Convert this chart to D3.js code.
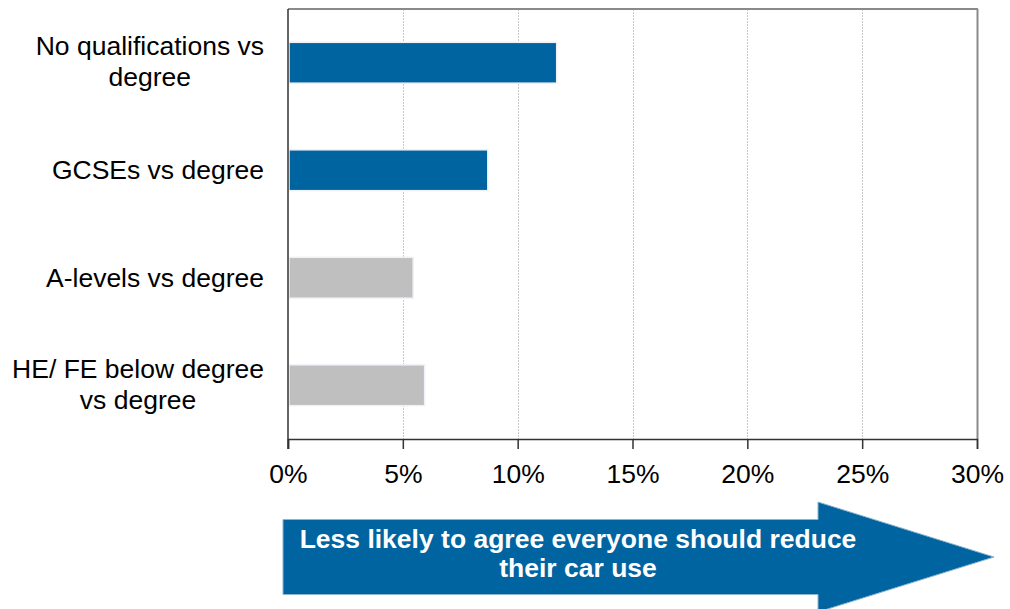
<!DOCTYPE html>
<html>
<head>
<meta charset="utf-8">
<script src="https://cdn.jsdelivr.net/npm/d3@7"></script>
<style>
  html, body { margin: 0; padding: 0; background: #fff; }
  svg { display: block; font-family: "Liberation Sans", Arial, sans-serif; }
</style>
</head>
<body>
<svg id="chart" width="1010" height="609"></svg>
<script>
// ---- data ----
const categories = [
  ["No qualifications vs", "degree"],
  ["GCSEs vs degree"],
  ["A-levels vs degree"],
  ["HE/ FE below degree", "vs degree"]
];
const values = [11.7, 8.7, 5.45, 5.95];
const significant = [true, true, false, false];
const tickValues = [0, 5, 10, 15, 20, 25, 30];
const arrowText = ["Less likely to agree everyone should reduce", "their car use"];

// ---- layout ----
const svg = d3.select("#chart");
const plotLeft = 288, plotRight = 977, plotTop = 9, plotBottom = 439;
const fontSize = 26.5;
const blue = "#0064a1", grey = "#bfbfbf";

const x = d3.scaleLinear().domain([0, 30]).range([plotLeft, plotRight]);
const y = d3.scaleBand()
  .domain(d3.range(categories.length))
  .range([plotTop, plotBottom])
  .paddingInner(0.62)
  .paddingOuter(0.31);

// gridlines
svg.append("g")
  .selectAll("line")
  .data(tickValues.filter(d => d > 0 && d < 30))
  .join("line")
  .attr("x1", d => Math.round(x(d)) + 0.5)
  .attr("x2", d => Math.round(x(d)) + 0.5)
  .attr("y1", plotTop)
  .attr("y2", plotBottom)
  .attr("stroke", "#c8c8c8")
  .attr("stroke-width", 1)
  .attr("stroke-dasharray", "2,1");

// bars
svg.append("g")
  .selectAll("rect")
  .data(values)
  .join("rect")
  .attr("x", x(0) + 1)
  .attr("y", (d, i) => y(i))
  .attr("width", d => x(d) - x(0) - 1)
  .attr("height", y.bandwidth())
  .attr("fill", (d, i) => significant[i] ? blue : grey)
  .attr("stroke", "#eef2f6")
  .attr("stroke-width", 1.5);

// frame: top and right (grey)
svg.append("line")
  .attr("x1", plotLeft).attr("x2", plotRight + 1)
  .attr("y1", plotTop).attr("y2", plotTop)
  .attr("stroke", "#8a8a8a").attr("stroke-width", 2);
svg.append("line")
  .attr("x1", plotRight + 0.5).attr("x2", plotRight + 0.5)
  .attr("y1", plotTop).attr("y2", plotBottom)
  .attr("stroke", "#8a8a8a").attr("stroke-width", 2);

// bottom axis
const xAxis = d3.axisBottom(x)
  .tickValues(tickValues)
  .tickSize(10)
  .tickPadding(15)
  .tickFormat(d => d + "%");
const gx = svg.append("g")
  .attr("transform", `translate(0,${plotBottom})`)
  .call(xAxis);
gx.select(".domain").attr("stroke", "#333").attr("stroke-width", 1.5);
gx.selectAll(".tick line").attr("stroke", "#333").attr("stroke-width", 1.5);
gx.selectAll(".tick text")
  .attr("fill", "#000")
  .style("font-size", fontSize + "px")
  .style("font-family", "'Liberation Sans', Arial, sans-serif");

// left axis line
svg.append("line")
  .attr("x1", plotLeft).attr("x2", plotLeft)
  .attr("y1", plotTop).attr("y2", plotBottom + 10)
  .attr("stroke", "#333").attr("stroke-width", 1.5);

// category labels (multi-line, centered block, right aligned)
const labelRight = 264;
const lg = svg.append("g").style("font-size", fontSize + "px").attr("fill", "#000");
categories.forEach((lines, i) => {
  const cy = y(i) + y.bandwidth() / 2;
  const tmp = lg.append("text");
  let maxW = 0;
  lines.forEach(l => { tmp.text(l); maxW = Math.max(maxW, tmp.node().getComputedTextLength()); });
  tmp.remove();
  const t = lg.append("text").attr("text-anchor", "middle");
  const cx = labelRight - maxW / 2;
  const lineH = 31;
  const baseY = lines.length === 1 ? cy + 9 : cy - 7.5;
  lines.forEach((l, j) => {
    t.append("tspan").attr("x", cx).attr("y", baseY + j * lineH).text(l);
  });
});

// arrow annotation
const arrow = d3.path();
arrow.moveTo(283, 519.5);
arrow.lineTo(818, 519.5);
arrow.lineTo(818, 502);
arrow.lineTo(994, 557);
arrow.lineTo(818, 612);
arrow.lineTo(818, 594.5);
arrow.lineTo(283, 594.5);
arrow.closePath();
svg.append("path")
  .attr("d", arrow.toString())
  .attr("fill", blue)
  .attr("stroke", "#8fb3d0")
  .attr("stroke-width", 1);

svg.append("text")
  .attr("text-anchor", "middle")
  .attr("fill", "#fff")
  .style("font-size", fontSize + "px")
  .style("font-weight", "bold")
  .selectAll("tspan")
  .data(arrowText)
  .join("tspan")
  .attr("x", 578)
  .attr("y", (d, i) => 548 + i * 29)
  .text(d => d);
</script>
</body>
</html>
